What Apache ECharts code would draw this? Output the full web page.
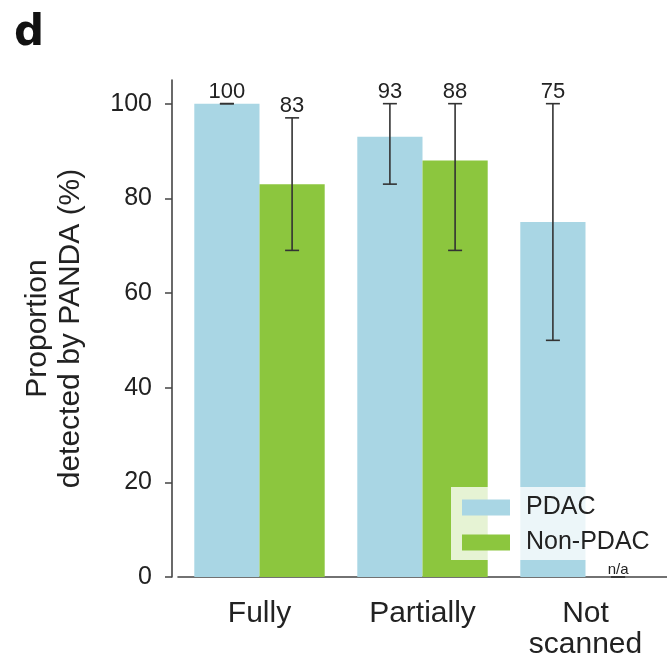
<!DOCTYPE html>
<html>
<head>
<meta charset="utf-8">
<script src="https://cdn.jsdelivr.net/npm/echarts@6/dist/echarts.min.js"></script>
<style>
html,body{margin:0;padding:0;background:#fff;}
#chart{width:667px;height:663px;}
</style>
</head>
<body>
<div id="chart"></div>
<script>
const categories = ['Fully', 'Partially', 'Not\nscanned'];
const pdacValues = [100, 93, 75];
const nonPdacValues = [83, 88, null];
const pdacLower = [100, 83, 50];
const pdacUpper = [100, 100, 100];
const nonPdacLower = [69, 69, 0];
const nonPdacUpper = [97, 100, 0];
const pdacLabels = ['100', '93', '75'];
const nonPdacLabels = ['83', '88', 'n/a'];
const yTicks = [0, 20, 40, 60, 80, 100];

const FONT = 'Liberation Sans';
const PDAC_COLOR = '#a9d6e4';
const NON_COLOR = '#8cc63e';

function errSeries(lower, upper, labels, sign) {
  return {
    type: 'custom',
    z: 5,
    silent: true,
    data: categories.map((c, i) => [i, lower[i], upper[i]]),
    renderItem: function (params, api) {
      const i = api.value(0);
      const lo = api.coord([i, api.value(1)]);
      const hi = api.coord([i, api.value(2)]);
      const band = api.size([1, 0])[0];
      const x = lo[0] + sign * band * 0.2;
      const cap = 7;
      const st = { stroke: '#333', lineWidth: 1.6 };
      const lbl = labels[params.dataIndex];
      const small = lbl === 'n/a';
      return {
        type: 'group',
        children: [
          { type: 'line', shape: { x1: x, y1: lo[1], x2: x, y2: hi[1] }, style: st },
          { type: 'line', shape: { x1: x - cap, y1: hi[1], x2: x + cap, y2: hi[1] }, style: st },
          { type: 'line', shape: { x1: x - cap, y1: lo[1], x2: x + cap, y2: lo[1] }, style: st },
          { type: 'text', x: x, y: hi[1] - (small ? 0 : 1),
            style: { text: lbl, fontFamily: FONT, fontSize: small ? 15 : 22, fill: '#222',
                     align: 'center', verticalAlign: 'bottom' } }
        ]
      };
    }
  };
}

const chart = echarts.init(document.getElementById('chart'));
chart.setOption({
  animation: false,
  backgroundColor: '#fff',
  graphic: [{
    type: 'text', left: 14, top: 13,
    style: { text: 'd', fontFamily: 'DejaVu Sans', fontWeight: 'bold', fontSize: 42, fill: '#111' }
  }],
  grid: { left: 178, right: -2, top: 80, bottom: 86 },
  legend: {
    data: ['PDAC', 'Non-PDAC'],
    orient: 'vertical',
    left: 451, top: 487,
    itemWidth: 48, itemHeight: 16, itemGap: 10,
    padding: [8, 8, 5, 11],
    backgroundColor: 'rgba(255,255,255,0.78)',
    textStyle: { fontFamily: FONT, fontSize: 25, color: '#222', padding: [0, 0, 0, 11] },
    icon: 'rect'
  },
  xAxis: {
    type: 'category',
    data: categories,
    axisLine: { lineStyle: { color: '#444', width: 1.6 } },
    axisTick: { alignWithLabel: true, length: 6, lineStyle: { color: '#444', width: 1.5 } },
    axisLabel: { fontFamily: FONT, fontSize: 30, color: '#222', margin: 21, lineHeight: 31 }
  },
  yAxis: {
    type: 'value',
    min: 0, max: 105, interval: 20,
    offset: 6,
    name: 'Proportion\ndetected by PANDA (%)',
    nameLocation: 'middle',
    nameGap: 85,
    nameTextStyle: { fontFamily: FONT, fontSize: 30, color: '#222', lineHeight: 33 },
    splitLine: { show: false },
    axisLine: { show: true, lineStyle: { color: '#444', width: 1.6 } },
    axisTick: { show: true, length: 7, customValues: yTicks, lineStyle: { color: '#444', width: 1.5 } },
    axisLabel: { fontFamily: FONT, fontSize: 25, color: '#222', margin: 20, customValues: yTicks }
  },
  series: [
    { name: 'PDAC', type: 'bar', data: pdacValues, barWidth: '40%', barGap: '0%',
      itemStyle: { color: PDAC_COLOR } },
    { name: 'Non-PDAC', type: 'bar', data: nonPdacValues, barWidth: '40%', barGap: '0%',
      itemStyle: { color: NON_COLOR } },
    errSeries(pdacLower, pdacUpper, pdacLabels, -1),
    errSeries(nonPdacLower, nonPdacUpper, nonPdacLabels, 1)
  ]
});
</script>
</body>
</html>
